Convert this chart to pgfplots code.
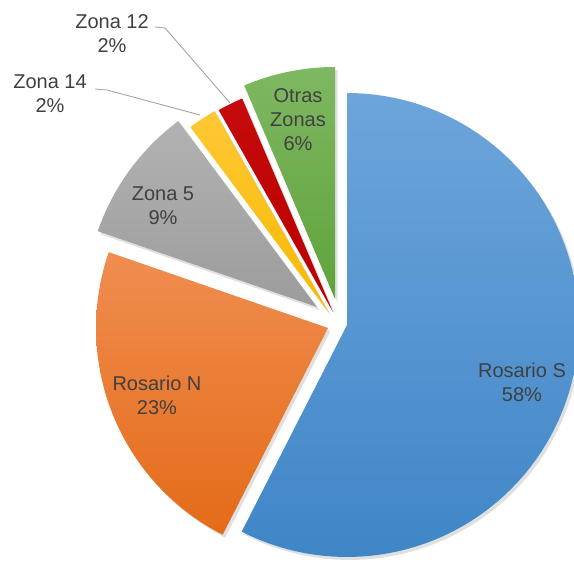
\documentclass[border=0pt]{standalone}
\usepackage{pgfplots}
\pgfplotsset{compat=1.18}
\usepackage{fontspec}
\setmainfont{Liberation Sans}
\definecolor{txt}{HTML}{404040}
\definecolor{lead}{HTML}{A6A6A6}
\definecolor{bluetop}{HTML}{6DA5DB}
\definecolor{bluebot}{HTML}{3F86C7}
\definecolor{ortop}{HTML}{F08D50}
\definecolor{orbot}{HTML}{E46B18}
\definecolor{graytop}{HTML}{B2B2B2}
\definecolor{graybot}{HTML}{9C9C9C}
\definecolor{yeltop}{HTML}{FFC835}
\definecolor{yelbot}{HTML}{F7B900}
\definecolor{redtop}{HTML}{C40A0A}
\definecolor{redbot}{HTML}{BC0000}
\definecolor{grtop}{HTML}{7EB862}
\definecolor{grbot}{HTML}{5FA33A}
% shares (percent)
\def\pS{57.5}   % Rosario S
\def\pN{22.8}   % Rosario N
\def\pZv{9.5}   % Zona 5
\def\pZxiv{2.0} % Zona 14
\def\pZxii{1.8} % Zona 12
\def\pO{6.4}    % Otras Zonas
\def\R{232}
\newcommand\slice[5]{%
  \addplot[#5, domain=#1:#2, samples=90, variable=\t]
    ({#3+\R*cos(\t)},{#4+\R*sin(\t)}) -- (axis cs:#3,#4) -- cycle;
}
\begin{document}
\begin{tikzpicture}
\pgfmathsetmacro\aO{90}
\pgfmathsetmacro\aA{\aO-3.6*\pS}
\pgfmathsetmacro\aB{\aA-3.6*\pN}
\pgfmathsetmacro\aC{\aB-3.6*\pZv}
\pgfmathsetmacro\aD{\aC-3.6*\pZxiv}
\pgfmathsetmacro\aE{\aD-3.6*\pZxii}
\pgfmathsetmacro\aF{\aE-3.6*\pO}
\begin{axis}[
  at={(0,0)}, anchor=south west,
  scale only axis, width=574pt, height=563pt,
  xmin=0, xmax=574, ymin=0, ymax=563,
  hide axis, clip=true,
]
% soft shadows
\foreach \s/\o in {2.5/0.07, 1.5/0.09} {
}
\slice{\aA}{\aO}{349.5}{235}{fill=black, fill opacity=0.12, draw=none}
\slice{\aB}{\aA}{330.5}{232}{fill=black, fill opacity=0.12, draw=none}
\slice{\aC}{\aB}{319.5}{253}{fill=black, fill opacity=0.12, draw=none}
\slice{\aD}{\aC}{331.5}{247}{fill=black, fill opacity=0.12, draw=none}
\slice{\aE}{\aD}{335.5}{248}{fill=black, fill opacity=0.12, draw=none}
\slice{\aF}{\aE}{337.5}{261}{fill=black, fill opacity=0.12, draw=none}
% slices
\slice{\aA}{\aO}{347}{238}{draw=none, top color=bluetop, bottom color=bluebot}
\slice{\aB}{\aA}{328}{235}{draw=none, top color=ortop, bottom color=orbot}
\slice{\aC}{\aB}{317}{256}{draw=none, top color=graytop, bottom color=graybot}
\slice{\aD}{\aC}{329}{250}{draw=none, top color=yeltop, bottom color=yelbot}
\slice{\aE}{\aD}{333}{251}{draw=none, top color=redtop, bottom color=redbot}
\slice{\aF}{\aE}{335}{264}{draw=none, top color=grtop, bottom color=grbot}
% leader lines
\addplot[lead, line width=0.9pt] coordinates {(155,536) (165,535) (230,460)};
\addplot[lead, line width=0.9pt] coordinates {(95,474) (107,473) (200,448)};
% labels
\begin{scope}[every node/.style={text=txt, align=center, font=\fontsize{20}{24}\selectfont}]
\node at (axis cs:522,181) {Rosario S\\58\%};
\node at (axis cs:157,168) {Rosario N\\23\%};
\node at (axis cs:163,357) {Zona 5\\9\%};
\node at (axis cs:298,443) {Otras\\Zonas\\6\%};
\node at (axis cs:112,529) {Zona 12\\2\%};
\node at (axis cs:50,469) {Zona 14\\2\%};
\end{scope}
\end{axis}
\pgfresetboundingbox
\path (0,0) rectangle (574pt,563pt);
\end{tikzpicture}
\end{document}
